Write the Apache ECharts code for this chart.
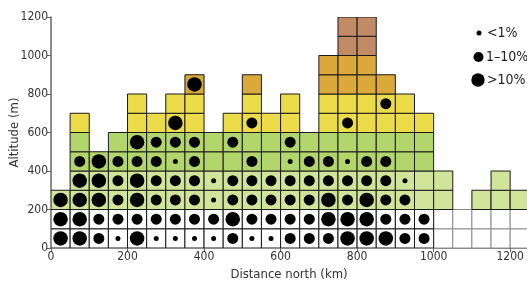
<!DOCTYPE html>
<html>
<head>
<meta charset="utf-8">
<script src="https://cdn.jsdelivr.net/npm/echarts@6/dist/echarts.min.js"></script>
<style>
html,body{margin:0;padding:0;background:#fff;}
#chart{width:527px;height:286px;}
</style>
</head>
<body>
<div id="chart"></div>
<script>
// Column (50 km wide) start positions, km north
const columnStartKm = [0,50,100,150,200,250,300,350,400,450,500,550,600,650,700,750,800,850,900,950,1000,1050,1100,1150,1200];
// Highest altitude reached in each column, m
const columnTopM = [300,700,500,600,800,700,800,900,600,700,900,700,800,600,1000,1200,1200,900,800,700,400,200,300,400,300];
// Altitude band lower edges (m) used for cell colour
const bandStartM = [0,200,400,600,800,1000];
// Dot size codes per 100 m row: 0 none, 1 <1%, 2 1–10%, 3 >10%
const dots0to100   = [3,3,2,1,3,1,1,1,1,2,1,1,2,2,2,3,3,3,2,2,0,0,0,0,0];
const dots100to200 = [3,3,2,2,2,2,2,2,2,3,2,2,2,2,3,3,3,2,2,2,0,0,0,0,0];
const dots200to300 = [3,3,3,2,3,2,2,2,1,2,2,2,2,2,3,2,3,2,2,0,0,0,0,0,0];
const dots300to400 = [0,3,3,2,3,2,2,2,1,2,2,2,2,2,2,2,2,2,1,0,0,0,0,0,0];
const dots400to500 = [0,2,3,2,2,2,1,2,0,0,2,0,1,2,2,1,2,2,0,0,0,0,0,0,0];
const dots500to600 = [0,0,0,0,3,2,2,2,0,2,0,0,2,0,0,0,0,0,0,0,0,0,0,0,0];
const dots600to700 = [0,0,0,0,0,0,3,0,0,0,2,0,0,0,0,2,0,0,0,0,0,0,0,0,0];
const dots700to800 = [0,0,0,0,0,0,0,0,0,0,0,0,0,0,0,0,0,2,0,0,0,0,0,0,0];
const dots800to900 = [0,0,0,0,0,0,0,3,0,0,0,0,0,0,0,0,0,0,0,0,0,0,0,0,0];
const dotRows = [dots0to100,dots100to200,dots200to300,dots300to400,dots400to500,dots500to600,dots600to700,dots700to800,dots800to900];
const legendLabels = ['<1%','1\u201310%','>10%'];
const xTicks = [0,200,400,600,800,1000,1200];
const yTicks = [0,200,400,600,800,1000,1200];

const colWidth = 50, rowHeight = 100;
const bandColors = ['#ffffff','#d0e49a','#b2d66b','#ecdc4a','#dba83a','#c18b66'];
const dotSizes = [0, 5, 11, 14.5];
const FONT = '"DejaVu Sans Condensed","Liberation Sans Narrow",sans-serif';

function bandIndex(alt){
  let b = 0;
  for (let i=0;i<bandStartM.length;i++) if (alt >= bandStartM[i]) b = i;
  return b;
}

const cellData = [];
columnStartKm.forEach((x0, c) => {
  for (let y0 = 0; y0 < columnTopM[c]; y0 += rowHeight) {
    cellData.push([x0, x0 + colWidth, y0, y0 + rowHeight, bandIndex(y0), c]);
  }
});
const dotData = [];
dotRows.forEach((row, r) => {
  row.forEach((code, c) => {
    if (code > 0) dotData.push([columnStartKm[c] + colWidth/2, r*rowHeight + rowHeight/2, code]);
  });
});

const chart = echarts.init(document.getElementById('chart'), null, {renderer:'canvas'});
const labelStyle = {color:'#333', fontFamily:FONT, fontSize:12};
chart.setOption({
  animation:false,
  backgroundColor:'#fff',
  grid:{left:51, right:0, top:17, bottom:38, containLabel:false, outerBoundsMode:'none'},
  xAxis:{
    type:'value', min:0, max:1244, interval:200,
    name:'Distance north (km)', nameLocation:'middle', nameGap:20, nameMoveOverlap:false,
    nameTextStyle:{color:'#333', fontFamily:FONT, fontSize:13, verticalAlign:'top'},
    axisLine:{show:true, lineStyle:{color:'#666', width:1.5}},
    axisTick:{show:true, length:4, lineStyle:{color:'#666'}},
    axisLabel:Object.assign({margin:3, showMaxLabel:false,
      formatter:v => xTicks.indexOf(v) >= 0 ? String(v) : ''}, labelStyle),
    splitLine:{show:false}
  },
  yAxis:{
    type:'value', min:0, max:1200, interval:200,
    name:'Altitude (m)', nameLocation:'middle', nameGap:30, nameMoveOverlap:false,
    nameTextStyle:{color:'#333', fontFamily:FONT, fontSize:13},
    axisLine:{show:true, lineStyle:{color:'#666', width:1.5}},
    axisTick:{show:true, length:4, lineStyle:{color:'#666'}},
    axisLabel:Object.assign({margin:3,
      formatter:v => yTicks.indexOf(v) >= 0 ? String(v) : ''}, labelStyle),
    splitLine:{show:false}
  },
  series:[
    {
      type:'custom',
      data:cellData,
      clip:true,
      z:2,
      renderItem:function(params, api){
        const p1 = api.coord([api.value(0), api.value(3)]);
        const p2 = api.coord([api.value(1), api.value(2)]);
        const band = api.value(4), col = api.value(5);
        const stroke = (band === 0 && col >= 20) ? '#8c8c8c' : '#1a1a1a';
        return {
          type:'rect',
          shape:{x:p1[0], y:p1[1], width:p2[0]-p1[0], height:p2[1]-p1[1]},
          style:{fill:bandColors[band], stroke:stroke, lineWidth:1},
          z2: band === 0 && col >= 20 ? 0 : 1
        };
      }
    },
    {
      type:'scatter',
      data:dotData,
      z:3,
      symbol:'circle',
      symbolSize:v => dotSizes[v[2]],
      itemStyle:{color:'#000', opacity:1},
      silent:true
    }
  ],
  graphic:[
    {type:'circle', shape:{cx:479, cy:33, r:2.5}, style:{fill:'#000'}},
    {type:'circle', shape:{cx:478.5, cy:57, r:5}, style:{fill:'#000'}},
    {type:'circle', shape:{cx:478, cy:80, r:6.7}, style:{fill:'#000'}},
    {type:'text', x:487, y:33, style:{text:legendLabels[0], fill:'#222', font:'14px '+FONT, verticalAlign:'middle'}},
    {type:'text', x:486, y:57, style:{text:legendLabels[1], fill:'#222', font:'14px '+FONT, verticalAlign:'middle'}},
    {type:'text', x:487, y:80, style:{text:legendLabels[2], fill:'#222', font:'14px '+FONT, verticalAlign:'middle'}}
  ]
});
</script>
</body>
</html>
